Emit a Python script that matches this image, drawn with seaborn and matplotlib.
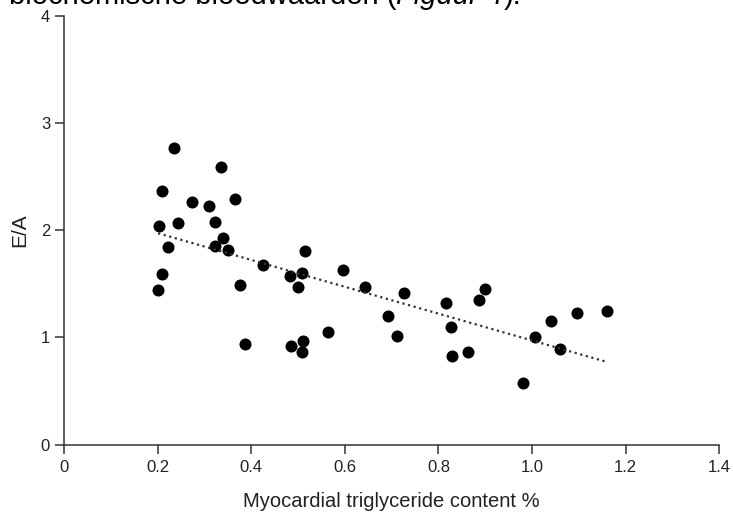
import numpy as np
import pandas as pd
import seaborn as sns
import matplotlib.pyplot as plt

# values
tg_content = [0.234, 0.336, 0.209, 0.273, 0.310, 0.366, 0.204, 0.243, 0.323, 0.339,
              0.323, 0.350, 0.223, 0.425, 0.514, 0.508, 0.483, 0.597, 0.209, 0.201,
              0.376, 0.386, 0.485, 0.510, 0.509, 0.501, 0.564, 0.644, 0.726, 0.693,
              0.712, 0.816, 0.826, 0.830, 0.864, 0.886, 0.900, 0.981, 1.006, 1.041,
              1.060, 1.096, 1.161]
ea_ratio = [2.77, 2.59, 2.37, 2.26, 2.23, 2.29, 2.04, 2.07, 2.08, 1.93,
            1.85, 1.82, 1.84, 1.68, 1.81, 1.60, 1.57, 1.63, 1.59, 1.44,
            1.49, 0.94, 0.92, 0.97, 0.86, 1.47, 1.05, 1.47, 1.41, 1.20,
            1.01, 1.32, 1.10, 0.83, 0.86, 1.35, 1.45, 0.57, 1.00, 1.15,
            0.89, 1.23, 1.25]
x_ticks = [0, 0.2, 0.4, 0.6, 0.8, 1.0, 1.2, 1.4]
x_ticklabels = ['0', '0.2', '0.4', '0.6', '0.8', '1.0', '1.2', '1.4']
y_ticks = [0, 1, 2, 3, 4]
caption_parts = [('biochemische bloedwaarden (', 'normal'),
                 ('Figuur 4', 'italic'),
                 (').', 'normal')]


def main():
    sns.set_style('ticks')
    plt.rcParams['font.family'] = ['Liberation Sans', 'DejaVu Sans']

    df = pd.DataFrame({'tg': tg_content, 'ea': ea_ratio})

    fig = plt.figure(figsize=(7.33, 5.17), dpi=100)
    ax = fig.add_axes([0.0873, 0.1402, 0.894, 0.829])

    # scatter + least squares line (dotted)
    sns.regplot(data=df, x='tg', y='ea', ax=ax, ci=None,
                scatter_kws=dict(s=75, color='black', linewidths=0, alpha=1),
                line_kws=dict(color='#333333', lw=1.6, ls=(0, (1, 1.6))))

    ax.set_xlim(0, 1.4)
    ax.set_ylim(0, 4)
    ax.set_xticks(x_ticks)
    ax.set_xticklabels(x_ticklabels)
    ax.set_yticks(y_ticks)
    ax.tick_params(direction='out', length=6.5, width=1.1, color='#333333',
                   labelsize=12, labelcolor='#222222')
    ax.tick_params(axis='x', pad=5)
    for side in ['top', 'right']:
        ax.spines[side].set_visible(False)
    for side in ['left', 'bottom']:
        ax.spines[side].set_linewidth(1.1)
        ax.spines[side].set_color('#333333')
    ax.spines['left'].set_bounds(0, 4)
    ax.spines['bottom'].set_bounds(0, 1.4)

    ax.set_xlabel('Myocardial triglyceride content %', fontsize=14.5,
                  color='#222222', labelpad=12)
    ax.set_ylabel('E/A', fontsize=15, color='#222222', labelpad=8)

    # clipped caption from the page above the figure, pieces chained
    fig.canvas.draw()
    renderer = fig.canvas.get_renderer()
    x0 = 0.012
    for txt, style in caption_parts:
        t = fig.text(x0, 0.993, txt, fontsize=21, style=style,
                     va='baseline', ha='left', color='black')
        bb = t.get_window_extent(renderer=renderer)
        x0 = fig.transFigure.inverted().transform((bb.x1, 0))[0]

    fig.savefig('out.png', dpi=100)
    plt.close(fig)


if __name__ == "__main__":
    main()
